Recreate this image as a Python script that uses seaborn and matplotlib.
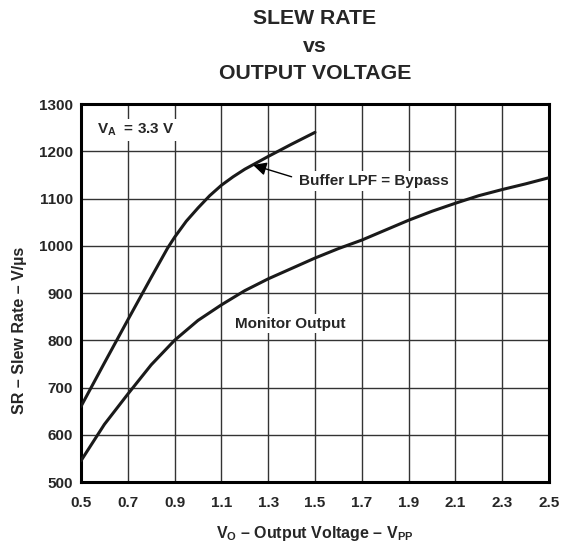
import numpy as np
import pandas as pd
import seaborn as sns
import matplotlib.pyplot as plt

# Buffer LPF = Bypass
buf_v = [0.5, 0.6, 0.7, 0.8, 0.87, 0.9, 0.95, 1.0, 1.05, 1.1, 1.15, 1.2, 1.3, 1.4, 1.5]
buf_sr = [660, 752, 843, 933, 995, 1018, 1052, 1080, 1106, 1128, 1146, 1162, 1189, 1215, 1240]

# Monitor Output
mon_v = [0.5, 0.6, 0.7, 0.8, 0.9, 1.0, 1.1, 1.2, 1.3, 1.4, 1.5, 1.6, 1.7, 1.8, 1.9, 2.0, 2.1, 2.2, 2.3, 2.4, 2.5]
mon_sr = [545, 622, 686, 748, 800, 842, 875, 905, 930, 952, 974, 994, 1012, 1033, 1054, 1073, 1090, 1106, 1119, 1131, 1144]

x_ticks = [0.5, 0.7, 0.9, 1.1, 1.3, 1.5, 1.7, 1.9, 2.1, 2.3, 2.5]
y_ticks = [500, 600, 700, 800, 900, 1000, 1100, 1200, 1300]

sns.set_style("white")
plt.rcParams['font.family'] = ['Liberation Sans', 'DejaVu Sans']
plt.rcParams['font.weight'] = 'bold'
plt.rcParams['mathtext.fontset'] = 'custom'
plt.rcParams['mathtext.rm'] = 'Liberation Sans:bold'
plt.rcParams['mathtext.it'] = 'Liberation Sans:bold'
plt.rcParams['mathtext.bf'] = 'Liberation Sans:bold'

df_buf = pd.DataFrame({'v': buf_v, 'sr': buf_sr})
df_mon = pd.DataFrame({'v': mon_v, 'sr': mon_sr})

fig = plt.figure(figsize=(5.72, 5.46), dpi=100)
ax = fig.add_axes([0.1416, 0.1172, 0.8182, 0.6923])

sns.lineplot(data=df_buf, x='v', y='sr', color='#1a1a1a', lw=2.2, ax=ax, zorder=3)
sns.lineplot(data=df_mon, x='v', y='sr', color='#1a1a1a', lw=2.2, ax=ax, zorder=3)

ax.set_xlim(0.5, 2.5)
ax.set_ylim(500, 1300)
ax.set_xticks(x_ticks)
ax.set_yticks(y_ticks)
ax.set_xticklabels([f'{t:.1f}' for t in x_ticks])
ax.grid(True, color='#333333', lw=1.0)
ax.set_axisbelow(True)
ax.tick_params(length=0, labelsize=11)
ax.tick_params(axis='x', pad=10)
ax.tick_params(axis='y', pad=6)
for lab in ax.get_xticklabels() + ax.get_yticklabels():
    lab.set_fontweight('bold')
for s in ax.spines.values():
    s.set_linewidth(2.2)
    s.set_color('black')

ax.set_xlabel(r'$\mathrm{V_O}$ – Output Voltage – $\mathrm{V_{PP}}$', fontsize=11.5, fontweight='bold', labelpad=10)
ax.set_ylabel('SR – Slew Rate – V/µs', fontsize=11.5, fontweight='bold')
ax.yaxis.set_label_coords(-0.116, 0.40)

# title, three lines
tx = 315 / 572
fig.text(tx, 1 - 24 / 546, 'SLEW RATE', fontsize=15.3, fontweight='bold', ha='center', va='baseline')
fig.text(tx, 1 - 52 / 546, 'vs', fontsize=15.3, fontweight='bold', ha='center', va='baseline')
fig.text(tx, 1 - 79 / 546, 'OUTPUT VOLTAGE', fontsize=15.3, fontweight='bold', ha='center', va='baseline')

box = dict(facecolor='white', edgecolor='none', pad=2)
ax.text(0.57, 1245, r'$\mathrm{V_A}$  = 3.3 V', fontsize=11, fontweight='bold',
        va='center', ha='left', bbox=box, zorder=4)
ax.text(1.43, 1137, 'Buffer LPF = Bypass', fontsize=11, fontweight='bold',
        va='center', ha='left', bbox=box, zorder=4)
ax.text(1.16, 835, 'Monitor Output', fontsize=11, fontweight='bold',
        va='center', ha='left', bbox=box, zorder=4)
ax.annotate('', xy=(1.235, 1171), xytext=(1.40, 1146),
            arrowprops=dict(arrowstyle='-|>', color='black', lw=1.0,
                            mutation_scale=20, shrinkA=0, shrinkB=0), zorder=5)

fig.savefig('out.png', dpi=100)
